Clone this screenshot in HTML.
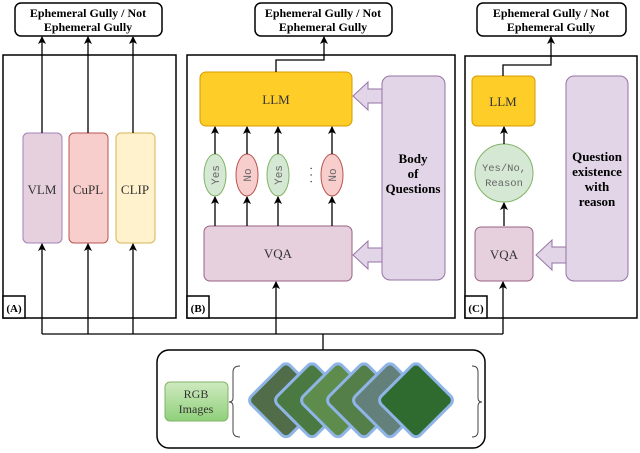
<!DOCTYPE html>
<html><head><meta charset="utf-8"><style>
body{margin:0;background:#fff}
svg{display:block}
.s{font-family:"Liberation Serif","DejaVu Serif",serif}
.m{font-family:"Liberation Mono","DejaVu Sans Mono",monospace}
</style></head><body>
<svg width="640" height="453" viewBox="0 0 640 453" xmlns="http://www.w3.org/2000/svg">
<defs>
<marker id="ar" markerWidth="8" markerHeight="8" refX="7" refY="4" orient="auto" markerUnits="userSpaceOnUse">
<path d="M0,0 L8,4 L0,8 L2,4 z" fill="#000"/></marker>
<linearGradient id="g1" x1="0" y1="0" x2="0" y2="1"><stop offset="0" stop-color="#cfeac0"/><stop offset="1" stop-color="#8fd07a"/></linearGradient>
</defs>
<g fill="#fff" stroke="#000" stroke-width="1.5">
<rect x="15" y="3" width="147" height="33" rx="6"/>
<rect x="255" y="3" width="137" height="33" rx="6"/>
<rect x="477" y="3" width="149" height="33" rx="6"/>
<rect x="3" y="55" width="173" height="263"/>
<rect x="187" y="55" width="268" height="263"/>
<rect x="465" y="56" width="172" height="262"/>
<rect x="3" y="296" width="22" height="22"/>
<rect x="187" y="296" width="22" height="22"/>
<rect x="465" y="296" width="22" height="22"/>
<rect x="157" y="350" width="328" height="98" rx="12"/>
</g>
<g class="s" font-weight="bold" font-size="12" text-anchor="middle">
<text x="88" y="17">Ephemeral Gully / Not</text><text x="88" y="31">Ephemeral Gully</text>
<text x="323" y="17">Ephemeral Gully / Not</text><text x="323" y="31">Ephemeral Gully</text>
<text x="551" y="17">Ephemeral Gully / Not</text><text x="551" y="31">Ephemeral Gully</text>
<text x="14" y="312" font-size="11">(A)</text><text x="198" y="312" font-size="11">(B)</text><text x="476" y="312" font-size="11">(C)</text>
</g>
<!-- A -->
<rect x="23" y="133" width="39" height="110" rx="5" fill="#e6d0de" stroke="#a680b8"/>
<rect x="69" y="133" width="39" height="110" rx="5" fill="#f8cecc" stroke="#b85450"/>
<rect x="116" y="133" width="39" height="110" rx="5" fill="#fff2cc" stroke="#d6b656"/>
<g class="s" font-size="13" fill="#333" text-anchor="middle">
<text x="42" y="194">VLM</text><text x="88" y="194">CuPL</text><text x="135" y="194">CLIP</text>
</g>
<!-- B -->
<rect x="200" y="72" width="152" height="54" rx="6" fill="#ffcd28" stroke="#d79b00"/>
<rect x="204" y="226" width="148" height="55" rx="6" fill="#e6d0de" stroke="#996185"/>
<rect x="382" y="76" width="63" height="204" rx="8" fill="#e1d5e7" stroke="#9673a6"/>
<!-- C -->
<rect x="472" y="76" width="63" height="50" rx="5" fill="#ffcd28" stroke="#d79b00"/>
<circle cx="504" cy="173" r="29" fill="#d5e8d4" stroke="#82b366"/>
<rect x="475" y="227" width="58" height="54" rx="6" fill="#e6d0de" stroke="#996185"/>
<rect x="566" y="76" width="62" height="205" rx="8" fill="#e1d5e7" stroke="#9673a6"/>
<g class="s" font-size="13" text-anchor="middle" fill="#333">
<text x="276" y="104">LLM</text>
<text x="278" y="258">VQA</text>
<text x="503" y="106">LLM</text>
<text x="504" y="259">VQA</text>
</g>
<g class="s" font-weight="bold" font-size="13" text-anchor="middle">
<text x="413" y="163">Body</text><text x="413" y="178">of</text><text x="413" y="193">Questions</text>
<text x="597" y="161">Question</text><text x="597" y="176">existence</text><text x="597" y="191">with</text><text x="597" y="206">reason</text></g>
<g stroke-width="1">
<ellipse cx="215" cy="175" rx="11" ry="21" fill="#d5e8d4" stroke="#82b366"/>
<ellipse cx="247" cy="175" rx="11" ry="21" fill="#f8cecc" stroke="#b85450"/>
<ellipse cx="278" cy="175" rx="11" ry="21" fill="#d5e8d4" stroke="#82b366"/>
<ellipse cx="332" cy="175" rx="11" ry="21" fill="#f8cecc" stroke="#b85450"/>
</g>
<g class="m" font-size="11" fill="#666" text-anchor="middle">
<text transform="translate(219,175) rotate(-90)">Yes</text>
<text transform="translate(251,175) rotate(-90)">No</text>
<text transform="translate(282,175) rotate(-90)">Yes</text>
<text transform="translate(336,175) rotate(-90)">No</text>
<text transform="translate(312,175) rotate(-90)">...</text>
</g>
<g class="m" font-size="10.5" fill="#666" text-anchor="middle"><text x="504" y="171">Yes/No,</text><text x="504" y="186">Reason</text></g>
<g fill="#e1d5e7" stroke="#9673a6">
<path d="M382,89 L368,89 L368,82 L353,96 L368,110 L368,103 L382,103 z"/>
<path d="M382,248 L368,248 L368,241 L353,255 L368,269 L368,262 L382,262 z"/>
<path d="M566,247 L552,247 L552,240 L536,255 L552,270 L552,263 L566,263 z"/>
</g>
<!-- connectors -->
<g stroke="#000" stroke-width="1.3" fill="none">
<path d="M42,133 V37" marker-end="url(#ar)"/><path d="M88,133 V37" marker-end="url(#ar)"/><path d="M133,133 V37" marker-end="url(#ar)"/>
<path d="M276,72 V60 H324 V37" marker-end="url(#ar)"/>
<path d="M503,76 V65 H551 V37" marker-end="url(#ar)"/>
<path d="M42,334 V244" marker-end="url(#ar)"/><path d="M88,334 V244" marker-end="url(#ar)"/><path d="M133,334 V244" marker-end="url(#ar)"/>
<path d="M276,334 V282" marker-end="url(#ar)"/><path d="M503,334 V282" marker-end="url(#ar)"/>
<path d="M42,334 H503"/><path d="M323,334 V350"/>
<path d="M504,226 V203" marker-end="url(#ar)"/><path d="M504,144 V127" marker-end="url(#ar)"/>
<path d="M215,226 V197" marker-end="url(#ar)"/><path d="M247,226 V197" marker-end="url(#ar)"/><path d="M278,226 V197" marker-end="url(#ar)"/><path d="M332,226 V197" marker-end="url(#ar)"/>
<path d="M215,154 V127" marker-end="url(#ar)"/><path d="M247,154 V127" marker-end="url(#ar)"/><path d="M278,154 V127" marker-end="url(#ar)"/><path d="M332,154 V127" marker-end="url(#ar)"/>
</g>
<!-- bottom -->
<rect x="165" y="382" width="63" height="39" rx="5" fill="url(#g1)" stroke="#82b366"/>
<g class="s" font-size="12" text-anchor="middle" fill="#333"><text x="196" y="398">RGB</text><text x="196" y="413">Images</text></g>
<g stroke="#444" fill="none"><path d="M240,366 Q233,366 233,372 V398 Q233,402 229,402 Q233,402 233,406 V431 Q233,437 240,437"/>
<path d="M472,366 Q478,366 478,372 V398 Q478,402 482,402 Q478,402 478,406 V431 Q478,437 472,437"/></g>
<g stroke="#8fb4e6" stroke-width="3">
<rect x="258" y="373" width="55" height="55" rx="6" fill="#506c48" transform="rotate(45 286 401)"/>
<rect x="284" y="373" width="55" height="55" rx="6" fill="#4a7a42" transform="rotate(45 312 401)"/>
<rect x="310" y="373" width="55" height="55" rx="6" fill="#5e8c4c" transform="rotate(45 338 401)"/>
<rect x="336" y="373" width="55" height="55" rx="6" fill="#557f48" transform="rotate(45 364 401)"/>
<rect x="362" y="373" width="55" height="55" rx="6" fill="#64807a" transform="rotate(45 390 401)"/>
<rect x="388" y="373" width="55" height="55" rx="6" fill="#2f6a2f" transform="rotate(45 416 401)"/>
</g>
</svg>
</body></html>
